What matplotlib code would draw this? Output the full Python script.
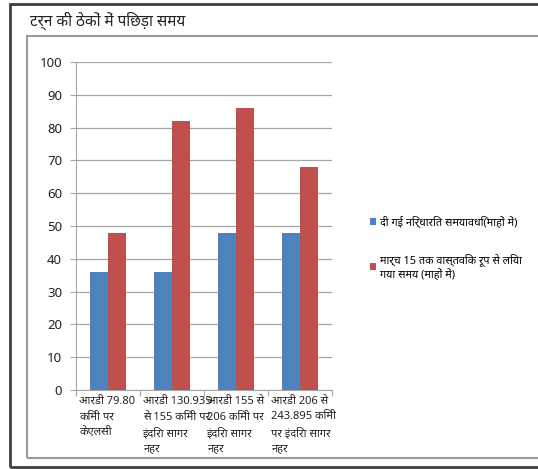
import matplotlib
matplotlib.use("Agg")
from matplotlib import pyplot as plt
from matplotlib.patches import Rectangle
import numpy as np

plt.rcParams['font.family'] = ['Noto Sans', 'DejaVu Sans']

titulo = "टर्न की ठेकों में पिछड़ा समय"
categorias = [
    "आरडी 79.80\nकिमी पर\nकेएलसी",
    "आरडी 130.935\nसे 155 किमी पर\nइंदिरा सागर\nनहर",
    "आरडी 155 से\n206 किमी पर\nइंदिरा सागर\nनहर",
    "आरडी 206 से\n243.895 किमी\nपर इंदिरा सागर\nनहर",
]
serie_azul = [36, 36, 48, 48]
serie_roja = [48, 82, 86, 68]
etiqueta_azul = "दी गई निर्धारित समयावधि(माहों में)"
etiqueta_roja = "मार्च 15 तक वास्तविक रूप से लिया\nगया समय (माहों में)"
ticks_y = [0, 10, 20, 30, 40, 50, 60, 70, 80, 90, 100]

AZUL = "#4F81BD"
ROJO = "#C0504D"
GRIS = "#A6A6A6"

fig = plt.figure(figsize=(5.38, 4.69), dpi=100)
W, H = 538, 469

# marcos
fig.patches.append(Rectangle((10 / W, 1 - 467 / H), 1.0, (467 - 4) / H,
                             transform=fig.transFigure, fill=False,
                             edgecolor="#404040", linewidth=2.0, clip_on=False))
fig.patches.append(Rectangle((27 / W, 1 - 458 / H), 1.0, (458 - 36) / H,
                             transform=fig.transFigure, fill=False,
                             edgecolor="#9a9a9a", linewidth=1.5, clip_on=False))

fig.text(30 / W, 1 - 21 / H, titulo, fontsize=11, ha="left", va="center", color="#222222")

ax = fig.add_axes([76 / W, 1 - 390 / H, 256 / W, 328 / H])
x = np.arange(len(categorias))
ancho = 0.28
ax.bar(x - ancho / 2, serie_azul, ancho, color=AZUL, label=etiqueta_azul, zorder=3)
ax.bar(x + ancho / 2, serie_roja, ancho, color=ROJO, label=etiqueta_roja, zorder=3)

ax.set_xlim(-0.5, len(categorias) - 0.5)
ax.set_ylim(0, 100)
ax.set_yticks(ticks_y)
ax.tick_params(axis="y", length=4, color=GRIS, labelsize=9.5, pad=6, labelcolor="#222222")
ax.yaxis.grid(True, color=GRIS, linewidth=0.9, zorder=0)
ax.set_xticks(np.arange(len(categorias) + 1) - 0.5)
ax.set_xticklabels([])
ax.tick_params(axis="x", length=4, color=GRIS)
for lado in ["top", "right"]:
    ax.spines[lado].set_visible(False)
for lado in ["left", "bottom"]:
    ax.spines[lado].set_color(GRIS)

for i, cat in enumerate(categorias):
    ax.text(i - 0.46, -1.8, cat, ha="left", va="top", fontsize=8,
            linespacing=1.55, color="#222222")

ax.legend(loc="upper left", bbox_to_anchor=(360 / W, 1 - 206 / H),
          bbox_transform=fig.transFigure, frameon=False, fontsize=7.8,
          handlelength=0.6, handleheight=0.6, handletextpad=0.3,
          labelspacing=2.3)

fig.savefig("out.png", dpi=100)
